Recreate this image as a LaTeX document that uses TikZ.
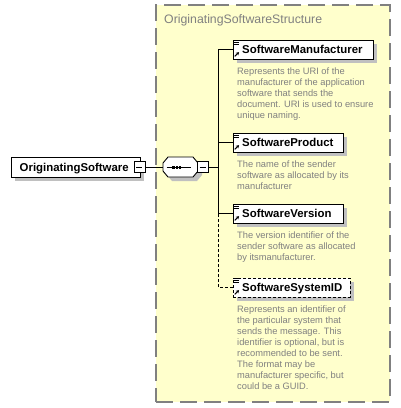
\documentclass[tikz,border=0pt]{standalone}
\usepackage{fontspec}
\setmainfont{Liberation Sans}
\usetikzlibrary{shadows,arrows.meta}
\definecolor{boxyellow}{HTML}{FFFFCC}
\definecolor{bordergray}{HTML}{808080}
\definecolor{descgray}{HTML}{808080}
\definecolor{shadowgray}{HTML}{C0C0C0}
\begin{document}
\begin{tikzpicture}[x=1pt,y=-1pt,
  elem/.style={draw=black, fill=white, line width=0.9pt, minimum height=19pt, inner sep=0pt,
    general shadow={fill=shadowgray, shadow xshift=4pt, shadow yshift=-4pt}},
  optelem/.style={elem, dash pattern=on 3pt off 2pt},
  elemtext/.style={font=\fontsize{11.4}{13}\selectfont\bfseries, inner sep=0pt, anchor=base west},
  desc/.style={font=\fontsize{9.3}{11}\selectfont, text=descgray, align=left, inner sep=0pt, anchor=north west},
  minusbox/.style={draw=black, fill=white, line width=0.9pt, minimum size=11pt, inner sep=0pt},
  conn/.style={draw=black, line width=0.9pt},
  optconn/.style={conn, dash pattern=on 3pt off 2pt},
  elemicon/.pic={
    \draw[line width=0.9pt] (1.5,0.8) -- (7,0.8);
    \draw[line width=0.9pt] (1.5,2.8) -- (6,2.8);
    \draw[line width=0.9pt] (1.5,4.8) -- (6,4.8);
    \draw[line width=1pt, -{Stealth[length=3pt,width=3.5pt]}] (2.2,16.8) -- (6.5,12.6);
  }]
\useasboundingbox (0,0) rectangle (401,408);

% structure box
\node[draw=bordergray, fill=boxyellow, line width=1.3pt, dash pattern=on 17pt off 7pt,
  minimum width=234pt, minimum height=397pt, inner sep=0pt] (struct) at (273,203.5) {};
\node[font=\fontsize{12.3}{14}\selectfont, text=bordergray, anchor=base west, inner sep=0pt]
  (title) at (164,23) {OriginatingSoftwareStructure};

% root element
\node[elem, minimum width=129pt, minimum height=20pt] (root) at (75.5,167) {};
\node[elemtext] (roott) at (19.5,171) {OriginatingSoftware};
\node[minusbox] (rootminus) at (139.5,167) {};
\draw[line width=0.9pt] (rootminus.west) ++(2.5,0) coordinate (rm1) -- ++(6,0);

% sequence compositor
\draw[line width=0.9pt, fill=white, general shadow={fill=shadowgray, shadow xshift=4pt, shadow yshift=-4pt}]
  (163,163) -- (168,157) -- (193,157) -- (198,163) -- (198,171) -- (193,177) -- (168,177) -- (163,171) -- cycle;
\coordinate (seqw) at (163,167);
\draw[line width=0.9pt] (166.5,167) -- (191,167);
\fill (172.4,165.5) rectangle (175,168.5);
\fill (175.6,165.5) rectangle (178.2,168.5);
\fill (178.8,165.5) rectangle (181.4,168.5);
\node[minusbox] (seqminus) at (203,167) {};
\draw[line width=0.9pt] (seqminus.west) ++(2.5,0) coordinate (sm1) -- ++(6,0);
\coordinate (bus) at (218,167);

% child elements
\node[elem, minimum width=140pt] (sm) at (303,49.5) {};
\node[elemtext] (smt) at (242,53.5) {SoftwareManufacturer};
\pic at (sm.north west) {elemicon};
\node[desc] (smd) at (237,67.5) {Represents the URI of the\\manufacturer of the application\\software that sends the\\document. URI is used to ensure\\unique naming.};

\node[elem, minimum width=110pt] (sp) at (288,142.5) {};
\node[elemtext] (spt) at (242,146.5) {SoftwareProduct};
\pic at (sp.north west) {elemicon};
\node[desc] (spd) at (237,160.5) {The name of the sender\\software as allocated by its\\manufacturer};

\node[elem, minimum width=110pt] (sv) at (288,213.5) {};
\node[elemtext] (svt) at (242,217.5) {SoftwareVersion};
\pic at (sv.north west) {elemicon};
\node[desc] (svd) at (237,231.5) {The version identifier of the\\sender software as allocated\\by itsmanufacturer.};

\node[optelem, minimum width=117pt] (ssid) at (291.5,287.5) {};
\node[elemtext] (ssidt) at (242,291.5) {SoftwareSystemID};
\pic at (ssid.north west) {elemicon};
\node[desc] (ssidd) at (237,305.5) {Represents an identifier of\\the particular system that\\sends the message. This\\identifier is optional, but is\\recommended to be sent.\\The format may be\\manufacturer specific, but\\could be a GUID.};

% connectors
\draw[conn] (rootminus.east) -- (seqw);
\draw[conn] (seqminus.east) -- (bus);
\draw[conn] (sm.west) -| (bus);
\draw[conn] (sp.west) -| (bus);
\draw[conn] (sv.west) -| (bus);
\draw[optconn] (ssid.west) -| (sv.west -| bus);
\end{tikzpicture}
\end{document}
